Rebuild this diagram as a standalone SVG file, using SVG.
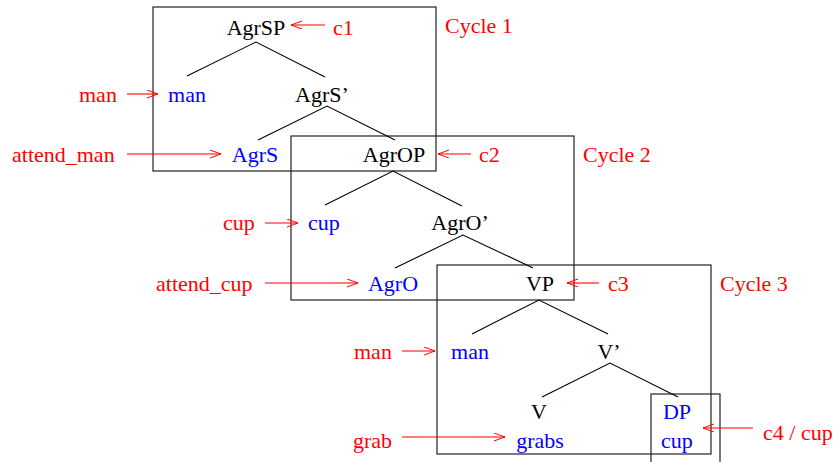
<svg xmlns="http://www.w3.org/2000/svg" width="837" height="462" viewBox="0 0 837 462">
<defs>
<marker id="ah" markerWidth="12" markerHeight="10" refX="11" refY="4" orient="auto" markerUnits="userSpaceOnUse">
<path d="M0,0 L11,4 L0,8" fill="none" stroke="#ff0000" stroke-width="1"/>
</marker>
</defs>
<style>
text{font-family:"Liberation Serif","Times New Roman",serif;font-size:22px}
.k{fill:#000}
.b{fill:#0000ff}
.r{fill:#ff0000}
.box{fill:none;stroke:#222;stroke-width:1.2}
.edge{stroke:#000;stroke-width:1.1;fill:none}
.arr{stroke:#ff0000;stroke-width:1.1;fill:none;marker-end:url(#ah)}
</style>
<rect width="837" height="462" fill="#fff"/>
<g id="boxes">
<rect id="cycle1box" class="box" x="153" y="7" width="283" height="164"/>
<rect id="cycle2box" class="box" x="291" y="136" width="283" height="164"/>
<rect id="cycle3box" class="box" x="437" y="265" width="274" height="189"/>
<rect id="cycle4box" class="box" x="651" y="394" width="69" height="80"/>
</g>
<g id="connectors">
<path class="edge" d="M187,76 L256,42 L325,77"/>
<path class="edge" d="M258,140 L327,106 L395,140"/>
<path class="edge" d="M325,205 L393,171 L462,206"/>
<path class="edge" d="M395,268 L463,235 L533,268"/>
<path class="edge" d="M472,334 L539,300 L608,334"/>
<path class="edge" d="M542,397 L610,363 L678,397"/>
<line class="arr" x1="325" y1="25" x2="291" y2="25"/>
<line class="arr" x1="127" y1="94" x2="158" y2="94"/>
<line class="arr" x1="127" y1="154" x2="221" y2="154"/>
<line class="arr" x1="471" y1="154" x2="438" y2="154"/>
<line class="arr" x1="265" y1="223" x2="298" y2="223"/>
<line class="arr" x1="265" y1="283" x2="358" y2="283"/>
<line class="arr" x1="599" y1="283" x2="567" y2="283"/>
<line class="arr" x1="402" y1="351" x2="435" y2="351"/>
<line class="arr" x1="402" y1="437" x2="505" y2="437"/>
<line class="arr" x1="753" y1="428" x2="703" y2="428"/>
</g>
<g id="AgrSP"><text class="k" x="256" y="35" text-anchor="middle">AgrSP</text></g>
<g id="c1"><text class="r" x="333" y="35">c1</text></g>
<g id="Cycle1"><text class="r" x="445" y="33">Cycle 1</text></g>
<g id="man1red"><text class="r" x="79" y="102">man</text></g>
<g id="man1"><text class="b" x="187" y="102" text-anchor="middle">man</text></g>
<g id="AgrSbar"><text class="k" x="322" y="102" text-anchor="middle">AgrS’</text></g>
<g id="attend_man"><text class="r" x="12" y="162">attend_man</text></g>
<g id="AgrS"><text class="b" x="255" y="162" text-anchor="middle">AgrS</text></g>
<g id="AgrOP"><text class="k" x="394" y="162" text-anchor="middle">AgrOP</text></g>
<g id="c2"><text class="r" x="479" y="162">c2</text></g>
<g id="Cycle2"><text class="r" x="583" y="162">Cycle 2</text></g>
<g id="cupred"><text class="r" x="223" y="230">cup</text></g>
<g id="cup1"><text class="b" x="324" y="230" text-anchor="middle">cup</text></g>
<g id="AgrObar"><text class="k" x="460" y="230" text-anchor="middle">AgrO’</text></g>
<g id="attend_cup"><text class="r" x="156" y="291">attend_cup</text></g>
<g id="AgrO"><text class="b" x="393" y="291" text-anchor="middle">AgrO</text></g>
<g id="VP"><text class="k" x="540" y="291" text-anchor="middle">VP</text></g>
<g id="c3"><text class="r" x="608" y="291">c3</text></g>
<g id="Cycle3"><text class="r" x="720" y="291">Cycle 3</text></g>
<g id="man2red"><text class="r" x="354" y="359">man</text></g>
<g id="man2"><text class="b" x="470" y="359" text-anchor="middle">man</text></g>
<g id="Vbar"><text class="k" x="609" y="359" text-anchor="middle">V’</text></g>
<g id="V"><text class="k" x="539" y="419" text-anchor="middle">V</text></g>
<g id="DP"><text class="b" x="677" y="419" text-anchor="middle">DP</text></g>
<g id="grabred"><text class="r" x="353" y="448">grab</text></g>
<g id="grabs"><text class="b" x="540" y="448" text-anchor="middle">grabs</text></g>
<g id="cup2"><text class="b" x="677" y="448" text-anchor="middle">cup</text></g>
<g id="c4cup"><text class="r" x="763" y="440">c4 / cup</text></g>
</svg>
